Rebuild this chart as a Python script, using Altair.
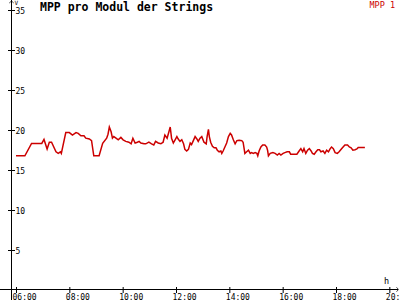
import altair as alt
import pandas as pd

# ---- data ----
times = [
    "06:00", "06:20", "06:35", "06:58", "07:03", "07:10", "07:15", "07:20", "07:30", "07:35",
    "07:40", "07:42", "07:52", "08:00", "08:07", "08:15", "08:20", "08:26", "08:33", "08:37",
    "08:45", "08:50", "08:55", "09:07", "09:15", "09:24", "09:27", "09:30", "09:34", "09:37",
    "09:40", "09:45", "09:50", "09:56", "10:01", "10:07", "10:14", "10:19", "10:23", "10:28",
    "10:33", "10:37", "10:41", "10:48", "10:52", "10:59", "11:05", "11:10", "11:14", "11:20",
    "11:26", "11:31", "11:35", "11:40", "11:45", "11:47", "11:50", "11:54", "11:58", "12:02",
    "12:05", "12:09", "12:13", "12:17", "12:20", "12:24", "12:28", "12:32", "12:35", "12:39",
    "12:43", "12:47", "12:50", "12:54", "12:58", "13:03", "13:08", "13:10", "13:13", "13:15",
    "13:18", "13:22", "13:26", "13:30", "13:33", "13:37", "13:41", "13:43", "13:46", "13:50",
    "13:54", "13:58", "14:02", "14:05", "14:09", "14:13", "14:17", "14:22", "14:28", "14:31",
    "14:35", "14:39", "14:43", "14:47", "14:50", "14:54", "14:58", "15:02", "15:04", "15:07",
    "15:11", "15:15", "15:20", "15:24", "15:26", "15:28", "15:32", "15:38", "15:43", "15:48",
    "15:52", "15:56", "16:01", "16:05", "16:10", "16:15", "16:18", "16:24", "16:32", "16:37",
    "16:41", "16:45", "16:48", "16:52", "16:56", "17:00", "17:04", "17:07", "17:11", "17:15",
    "17:19", "17:23", "17:26", "17:31", "17:35", "17:39", "17:43", "17:47", "17:50", "17:54",
    "17:58", "18:03", "18:07", "18:13", "18:16", "18:20", "18:26", "18:30", "18:34", "18:38",
    "18:43", "18:47", "18:50", "18:54", "19:05",
]
values = [
    16.9, 16.9, 18.45, 18.45, 18.95, 17.75, 18.6, 18.6, 17.4, 17.2,
    17.4, 17.2, 19.8, 19.8, 19.5, 19.8, 19.7, 19.4, 19.4, 19.1,
    19.0, 18.8, 16.9, 16.9, 18.45, 19.1, 19.6, 20.5, 19.9, 19.1,
    19.3, 19.1, 18.9, 19.2, 18.9, 18.7, 18.6, 18.4, 19.1, 18.5,
    18.6, 18.7, 18.5, 18.4, 18.4, 18.6, 18.4, 18.25, 18.7, 18.5,
    18.4, 18.6, 19.5, 19.1, 20.1, 20.5, 19.1, 18.5, 18.9, 19.3,
    19.0, 18.7, 18.9, 18.4, 17.7, 17.5, 17.7, 18.5, 18.3, 18.8,
    19.3, 19.0, 18.7, 19.1, 19.3, 18.6, 18.4, 19.3, 20.2, 19.3,
    18.6, 18.1, 17.9, 17.9, 17.6, 17.4, 17.5, 17.2, 17.5, 18.0,
    18.5, 19.3, 19.7, 19.5, 18.9, 18.4, 18.8, 18.85, 18.8, 18.6,
    17.2, 17.4, 17.6, 17.2, 17.3, 17.2, 17.3, 17.2, 16.9, 17.5,
    18.0, 18.25, 18.25, 18.0, 17.6, 16.9, 17.2, 17.3, 17.2, 17.0,
    17.2, 17.0, 17.2, 17.3, 17.4, 17.4, 17.1, 17.1, 17.1, 17.5,
    17.8, 17.4, 17.8, 17.2, 17.6, 17.8, 17.5, 17.2, 17.1, 17.4,
    17.65, 17.65, 17.4, 17.5, 17.2, 17.6, 17.4, 17.8, 18.0, 17.8,
    17.3, 17.2, 17.4, 17.8, 18.0, 18.25, 18.25, 18.0, 17.9, 17.6,
    17.65, 17.75, 17.95, 17.95, 17.95,
]
y_ticks = [5, 10, 15, 20, 25, 30, 35]
x_ticks = [6, 8, 10, 12, 14, 16, 18, 20]
title_text = "MPP pro Modul der Strings"
series_name = "MPP 1"
y_unit = "V"
x_unit = "h"


def to_hours(t):
    h, m = t.split(":")
    return int(h) + int(m) / 60.0


df = pd.DataFrame({"hour": [to_hours(t) for t in times], "value": values})

W, H = 387, 288
FONT = "DejaVu Sans Mono"
RED = "#cc0000"

xs = alt.Scale(domain=[5.8125, 20.325], nice=False, zero=False)
ys = alt.Scale(domain=[0, 36], nice=False, zero=False)

line = alt.Chart(df).mark_line(color=RED, strokeWidth=1.5, clip=True).encode(
    x=alt.X("hour:Q", scale=xs, axis=alt.Axis(
        values=x_ticks, title=None, ticks=False, domain=False, grid=False,
        labelExpr="(datum.value < 10 ? '0' : '') + datum.value + ':00'",
        labelAlign="left", labelBaseline="top", labelOffset=-4, labelPadding=2,
        labelFont=FONT, labelFontSize=8, labelColor="black",
        labelFlush=False, labelOverlap=False)),
    y=alt.Y("value:Q", scale=ys, axis=alt.Axis(
        values=y_ticks, title=None, ticks=False, domain=False, grid=False,
        labelAlign="left", labelBaseline="middle", labelPadding=-4,
        labelFont=FONT, labelFontSize=8, labelColor="black",
        labelFlush=False, labelOverlap=False)),
)

one = pd.DataFrame({"k": [0]})

# axis lines (crossing)
y_axis_line = alt.Chart(one).mark_rule(color="black", strokeWidth=1, xOffset=0.5).encode(
    x=alt.value(0), y=alt.value(-3), y2=alt.value(297))
x_axis_line = alt.Chart(one).mark_rule(color="black", strokeWidth=1, yOffset=-1.5).encode(
    x=alt.value(-11), x2=alt.value(387), y=alt.value(H))

# crossing tick marks
ytick = alt.Chart(pd.DataFrame({"value": y_ticks})).mark_rule(
    color="black", strokeWidth=1, yOffset=-0.5).encode(
    y=alt.Y("value:Q", scale=ys), x=alt.value(-3), x2=alt.value(4))
xtick = alt.Chart(pd.DataFrame({"hour": x_ticks})).mark_rule(
    color="black", strokeWidth=1, xOffset=0.5).encode(
    x=alt.X("hour:Q", scale=xs), y=alt.value(H - 4), y2=alt.value(H + 2))

# arrows
up_arrow = alt.Chart(one).mark_point(
    shape="M-1,0.9L0,0L1,0.9", size=20, filled=False, color="black", strokeWidth=1).encode(
    x=alt.value(0.5), y=alt.value(-2))
right_arrow = alt.Chart(one).mark_point(
    shape="M-0.9,-1L0,0L-0.9,1", size=20, filled=False, color="black", strokeWidth=1).encode(
    x=alt.value(387.5), y=alt.value(H - 1.5))

# texts
title = alt.Chart(pd.DataFrame({"t": [title_text]})).mark_text(
    font=FONT, fontSize=11.5, fontWeight="bold", align="left", baseline="alphabetic",
    color="black").encode(text="t:N", x=alt.value(29), y=alt.value(8))
legend = alt.Chart(pd.DataFrame({"t": [series_name]})).mark_text(
    font=FONT, fontSize=8.5, align="right", baseline="alphabetic",
    color=RED).encode(text="t:N", x=alt.value(384), y=alt.value(4.5))
vlab = alt.Chart(pd.DataFrame({"t": [y_unit]})).mark_text(
    font=FONT, fontSize=6, align="left", baseline="alphabetic",
    color="black").encode(text="t:N", x=alt.value(3.5), y=alt.value(2))
hlab = alt.Chart(pd.DataFrame({"t": [x_unit]})).mark_text(
    font=FONT, fontSize=8.5, align="center", baseline="alphabetic",
    color="black").encode(text="t:N", x=alt.value(375.5), y=alt.value(281))

chart = alt.layer(
    line, y_axis_line, x_axis_line, ytick, xtick, up_arrow, right_arrow,
    title, legend, vlab, hlab,
).properties(
    width=W, height=H,
    autosize=alt.AutoSizeParams(type="none"),
    padding={"left": 11, "top": 3, "right": 2, "bottom": 9},
    background="white",
).configure_view(stroke=None)

chart.save("out.html", embed_options={"renderer": "svg", "actions": False})
